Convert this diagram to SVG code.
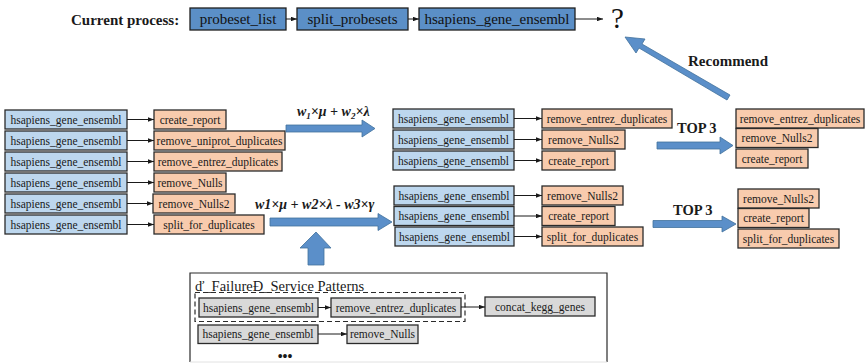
<svg xmlns="http://www.w3.org/2000/svg" width="866" height="363" viewBox="0 0 866 363">
  <style>
    .lbl { font-family: "Liberation Serif", "Times New Roman", serif; font-size: 11.5px; fill: #1a1a1a; text-anchor: middle; }
    .big { font-family: "Liberation Serif", "Times New Roman", serif; font-size: 15px; fill: #111; text-anchor: middle; }
    .hd { font-family: "Liberation Serif", "Times New Roman", serif; font-weight: bold; fill: #1a1a1a; }
    .fx { font-family: "Liberation Serif", "Times New Roman", serif; font-weight: bold; font-style: italic; font-size: 14px; fill: #1a1a1a; }
    .cur { fill: #5b8fc7; stroke: #1f1f1f; stroke-width: 1.3; }
    .svc { fill: #bdd7ee; stroke: #2b2b2b; stroke-width: 1.3; }
    .rec { fill: #f8cbad; stroke: #2b2b2b; stroke-width: 1.3; }
    .pat { fill: #d9d9d9; stroke: #2b2b2b; stroke-width: 1.3; }
    .link { stroke: #1a1a1a; stroke-width: 1; fill: none; marker-end: url(#tip); }
    .fat { fill: #5b8fc9; stroke: #41719c; stroke-width: 0.8; }
  </style>
  <defs>
    <marker id="tip" viewBox="0 0 8 6" refX="8" refY="3" markerWidth="6" markerHeight="4.5" orient="auto" markerUnits="userSpaceOnUse">
      <path d="M0,0 L8,3 L0,6 Z" fill="#1a1a1a"/>
    </marker>
  </defs>
  <rect width="866" height="363" fill="#ffffff"/>

  <!-- current process -->
  <text class="hd" x="71" y="25" font-size="15">Current process:</text>
  <g id="cur-probeset-list"><rect class="cur" x="190" y="8" width="96" height="22"/><text class="big" x="238" y="24">probeset_list</text></g>
  <g id="cur-split-probesets"><rect class="cur" x="297" y="8" width="111" height="22"/><text class="big" x="352.5" y="24">split_probesets</text></g>
  <g id="cur-gene-ensembl"><rect class="cur" x="419" y="8" width="156" height="22"/><text class="big" x="497" y="24">hsapiens_gene_ensembl</text></g>
  <text x="611" y="28" font-family="Liberation Serif, serif" font-size="29" fill="#111">?</text>
  <text class="hd" x="688" y="66" font-size="15">Recommend</text>

  <!-- candidate pairs -->
  <g id="cand-1"><rect class="svc" x="5" y="110" width="122" height="19"/><text class="lbl" x="66" y="123.5">hsapiens_gene_ensembl</text><rect class="rec" x="154" y="110" width="72" height="19"/><text class="lbl" x="190" y="123.5">create_report</text></g>
  <g id="cand-2"><rect class="svc" x="5" y="131" width="122" height="19"/><text class="lbl" x="66" y="144.5">hsapiens_gene_ensembl</text><rect class="rec" x="154" y="131" width="131" height="19"/><text class="lbl" x="219.5" y="144.5">remove_uniprot_duplicates</text></g>
  <g id="cand-3"><rect class="svc" x="5" y="152" width="122" height="19"/><text class="lbl" x="66" y="165.5">hsapiens_gene_ensembl</text><rect class="rec" x="154" y="152" width="128" height="19"/><text class="lbl" x="218" y="165.5">remove_entrez_duplicates</text></g>
  <g id="cand-4"><rect class="svc" x="5" y="173" width="122" height="19"/><text class="lbl" x="66" y="186.5">hsapiens_gene_ensembl</text><rect class="rec" x="154" y="173" width="72" height="19"/><text class="lbl" x="190" y="186.5">remove_Nulls</text></g>
  <g id="cand-5"><rect class="svc" x="5" y="194" width="122" height="19"/><text class="lbl" x="66" y="207.5">hsapiens_gene_ensembl</text><rect class="rec" x="153" y="194" width="82" height="19"/><text class="lbl" x="194" y="207.5">remove_Nulls2</text></g>
  <g id="cand-6"><rect class="svc" x="5" y="215" width="122" height="19"/><text class="lbl" x="66" y="228.5">hsapiens_gene_ensembl</text><rect class="rec" x="154" y="215" width="110" height="19"/><text class="lbl" x="209" y="228.5">split_for_duplicates</text></g>

  <!-- ranking without failure patterns -->
  <g id="rank-a-1"><rect class="svc" x="393" y="109" width="121" height="19"/><text class="lbl" x="453.5" y="122.5">hsapiens_gene_ensembl</text><rect class="rec" x="542" y="109" width="130" height="19"/><text class="lbl" x="607" y="122.5">remove_entrez_duplicates</text></g>
  <g id="rank-a-2"><rect class="svc" x="393" y="130" width="121" height="19"/><text class="lbl" x="453.5" y="143.5">hsapiens_gene_ensembl</text><rect class="rec" x="542" y="130" width="83" height="19"/><text class="lbl" x="583.5" y="143.5">remove_Nulls2</text></g>
  <g id="rank-a-3"><rect class="svc" x="393" y="151" width="121" height="19"/><text class="lbl" x="453.5" y="164.5">hsapiens_gene_ensembl</text><rect class="rec" x="542" y="151" width="73" height="19"/><text class="lbl" x="578.5" y="164.5">create_report</text></g>

  <!-- ranking with failure patterns -->
  <g id="rank-b-1"><rect class="svc" x="394" y="186" width="120" height="19"/><text class="lbl" x="454" y="199.5">hsapiens_gene_ensembl</text><rect class="rec" x="542" y="186" width="81" height="19"/><text class="lbl" x="582.5" y="199.5">remove_Nulls2</text></g>
  <g id="rank-b-2"><rect class="svc" x="394" y="206.5" width="120" height="19"/><text class="lbl" x="454" y="220">hsapiens_gene_ensembl</text><rect class="rec" x="542" y="206.5" width="73" height="19"/><text class="lbl" x="578.5" y="220">create_report</text></g>
  <g id="rank-b-3"><rect class="svc" x="395" y="227" width="119" height="19"/><text class="lbl" x="454.5" y="240.5">hsapiens_gene_ensembl</text><rect class="rec" x="542" y="227" width="101" height="19"/><text class="lbl" x="592.5" y="240.5">split_for_duplicates</text></g>

  <!-- top 3 results -->
  <g id="top-a-1"><rect class="rec" x="736" y="109" width="128" height="19"/><text class="lbl" x="800" y="122.5">remove_entrez_duplicates</text></g>
  <g id="top-a-2"><rect class="rec" x="736" y="128.5" width="82" height="19"/><text class="lbl" x="777" y="142">remove_Nulls2</text></g>
  <g id="top-a-3"><rect class="rec" x="736" y="149" width="72" height="19"/><text class="lbl" x="772" y="162.5">create_report</text></g>
  <g id="top-b-1"><rect class="rec" x="738" y="189" width="81" height="19"/><text class="lbl" x="778.5" y="202.5">remove_Nulls2</text></g>
  <g id="top-b-2"><rect class="rec" x="738" y="208.5" width="71" height="19"/><text class="lbl" x="773.5" y="222">create_report</text></g>
  <g id="top-b-3"><rect class="rec" x="738" y="229" width="101" height="19"/><text class="lbl" x="788.5" y="242.5">split_for_duplicates</text></g>

  <!-- failure service patterns panel -->
  <g id="failure-panel">
    <path d="M190,362 L190,273 L607,273 L607,362" fill="none" stroke="#2b2b2b" stroke-width="1.2"/>
    <line x1="190" y1="362" x2="607" y2="362" stroke="#e2e2e2" stroke-width="1"/>
    <text x="195" y="291" font-family="Liberation Serif, serif" font-size="14.5" fill="#1a1a1a">ď_FailureĐ_Service Patterns</text>
    <rect x="195" y="292.5" width="270" height="29" fill="none" stroke="#2b2b2b" stroke-width="1.2" stroke-dasharray="5,3"/>
    <text x="285" y="361" font-family="Liberation Serif, serif" font-size="14" font-weight="bold" fill="#1a1a1a" text-anchor="middle">•••</text>
  </g>
  <g id="pat-1a"><rect class="pat" x="199" y="298" width="119" height="19"/><text class="lbl" x="258.5" y="311.5">hsapiens_gene_ensembl</text></g>
  <g id="pat-1b"><rect class="pat" x="331" y="298" width="130" height="19"/><text class="lbl" x="396" y="311.5">remove_entrez_duplicates</text></g>
  <g id="pat-1c"><rect class="pat" x="485" y="297" width="110" height="19"/><text class="lbl" x="540" y="310.5">concat_kegg_genes</text></g>
  <g id="pat-2a"><rect class="pat" x="198" y="325" width="120" height="18.5"/><text class="lbl" x="258" y="338">hsapiens_gene_ensembl</text></g>
  <g id="pat-2b"><rect class="pat" x="347" y="325" width="71" height="18.5"/><text class="lbl" x="382.5" y="338">remove_Nulls</text></g>

  <!-- connectors -->
  <g id="connectors">
    <line class="link" x1="286" y1="19" x2="297" y2="19"/>
    <line class="link" x1="408" y1="19" x2="419" y2="19"/>
    <line class="link" x1="575" y1="19" x2="603" y2="19"/>

    <line class="link" x1="127" y1="119.5" x2="154" y2="119.5"/>
    <line class="link" x1="127" y1="140.5" x2="154" y2="140.5"/>
    <line class="link" x1="127" y1="161.5" x2="154" y2="161.5"/>
    <line class="link" x1="127" y1="182.5" x2="154" y2="182.5"/>
    <line class="link" x1="127" y1="203.5" x2="153" y2="203.5"/>
    <line class="link" x1="127" y1="224.5" x2="154" y2="224.5"/>

    <line class="link" x1="514" y1="118.5" x2="542" y2="118.5"/>
    <line class="link" x1="514" y1="139.5" x2="542" y2="139.5"/>
    <line class="link" x1="514" y1="160.5" x2="542" y2="160.5"/>
    <line class="link" x1="514" y1="195.5" x2="542" y2="195.5"/>
    <line class="link" x1="514" y1="216" x2="542" y2="216"/>
    <line class="link" x1="514" y1="236.5" x2="542" y2="236.5"/>

    <line class="link" x1="318" y1="307.5" x2="331" y2="307.5"/>
    <line class="link" x1="461" y1="307" x2="485" y2="307"/>
    <line class="link" x1="318" y1="334" x2="347" y2="334"/>

    <!-- block arrows -->
    <path class="fat" d="M286,125 L362,125 L362,120 L375,128.5 L362,137 L362,132 L286,132 Z"/>
    <path class="fat" d="M270,218 L378,218 L378,213.5 L392,222 L378,230.5 L378,226 L270,226 Z"/>
    <path class="fat" d="M308,265 L308,248 L300,248 L316,232 L331,248 L324,248 L324,265 Z"/>
    <path class="fat" d="M657,142 L720,142 L720,137 L733,145.5 L720,154 L720,149 L657,149 Z"/>
    <path class="fat" d="M653,220.5 L722,220.5 L722,216 L736,224 L722,232 L722,227.5 L653,227.5 Z"/>
    <path class="fat" d="M730,95 L642,44 L645,39 L625,37 L636,53 L639,48 L727,100 Z"/>
  </g>

  <!-- scoring formulas -->
  <text class="fx" x="297" y="116">w<tspan font-size="9" dy="3">1</tspan><tspan dy="-3">×μ + w</tspan><tspan font-size="9" dy="3">2</tspan><tspan dy="-3">×λ</tspan></text>
  <text class="fx" x="255" y="209">w1×μ + w2×λ - w3×γ</text>
  <text class="hd" x="677" y="133" font-size="14.5">TOP 3</text>
  <text class="hd" x="673" y="215" font-size="14.5">TOP 3</text>
</svg>
